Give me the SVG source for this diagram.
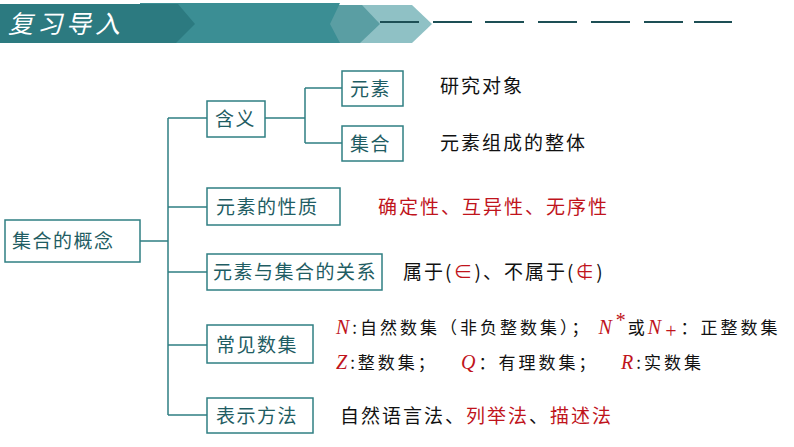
<svg xmlns="http://www.w3.org/2000/svg" width="794" height="447" viewBox="0 0 794 447">
<style>
.b{fill:#fff;stroke:#2f7f83;stroke-width:1.5}
.t{font-family:"Noto Sans CJK SC",sans-serif;font-size:19px;fill:#1f5d63;letter-spacing:1.5px}
.k{font-family:"Noto Sans CJK SC",sans-serif;font-size:19px;fill:#111;letter-spacing:2px}
.r{fill:#c0141c}
.m{font-family:"Liberation Serif",serif;font-style:italic;fill:#c0141c;font-size:20px}
.s{font-family:"Noto Sans CJK SC",sans-serif;font-size:17px;fill:#111;letter-spacing:3px}
</style>
<rect width="794" height="447" fill="#fff"/>
<g id="header">
<polygon points="360,5 412,5 432,24 412,43 340,43" fill="#8fc1c5"/>
<polygon points="320,5 362,5 380,24 360,43 322,43" fill="#5a9ea3"/>
<polygon points="140,3 340,3 330,24 340,43 140,43" fill="#3b8e94"/>
<polygon points="0,4 178,4 195,24 176,43 0,43" fill="#2c7a80"/>
<text x="8" y="33" font-family="Noto Sans CJK SC,sans-serif" font-size="25" fill="#fff" font-style="italic" letter-spacing="4">复习导入</text>
<g stroke="#1d4f55" stroke-width="2"><path d="M380 22H419M433 22H472M485 22H524M538 22H577M591 22H630M644 22H683M694 22H732"/></g>
</g>
<g id="connectors" fill="none" stroke="#2f7f83" stroke-width="1.5">
<path d="M140 241H168M168 118V415M168 118H207M168 207H207M168 272H207M168 345H207M168 415H207"/>
<path d="M265 118H305M305 88V143M305 88H342M305 143H342"/>
</g>
<g id="root"><rect class="b" x="5" y="220" width="135" height="42"/><text class="t" x="12" y="248">集合的概念</text></g>
<g id="hanyi"><rect class="b" x="207" y="101" width="58" height="36"/><text class="t" x="215" y="126">含义</text></g>
<g id="yuansu"><rect class="b" x="342" y="71" width="61" height="35"/><text class="t" x="350" y="96">元素</text></g>
<g id="jihe"><rect class="b" x="342" y="126" width="61" height="35"/><text class="t" x="350" y="151">集合</text></g>
<g id="xingzhi"><rect class="b" x="207" y="188" width="133" height="37"/><text class="t" x="216" y="214">元素的性质</text></g>
<g id="guanxi"><rect class="b" x="207" y="254" width="175" height="36"/><text class="t" x="213" y="279" letter-spacing="1">元素与集合的关系</text></g>
<g id="shuji"><rect class="b" x="207" y="325" width="106" height="38"/><text class="t" x="216" y="352">常见数集</text></g>
<g id="fangfa"><rect class="b" x="207" y="398" width="106" height="35"/><text class="t" x="216" y="423">表示方法</text></g>
<g id="texts">
<text class="k" x="440" y="93">研究对象</text>
<text class="k" x="440" y="150">元素组成的整体</text>
<text class="k r" x="378" y="214">确定性、互异性、无序性</text>
<text class="k" x="403" y="279">属于(<tspan class="r">∈</tspan>)、不属于(<tspan class="r">∉</tspan>)</text>
<text class="s" x="336" y="334"><tspan class="m">N</tspan>:自然数集（非负整数集）；  <tspan class="m">N</tspan><tspan class="m" font-size="12" dy="-7">*</tspan><tspan dy="7">或</tspan><tspan class="m">N</tspan><tspan class="m" font-size="15" dy="4">+</tspan><tspan dy="-4">：正整数集</tspan></text>
<text class="s" y="369"><tspan x="336" class="m">Z</tspan>:整数集；<tspan x="461" class="m">Q</tspan>：有理数集；<tspan x="621" class="m">R</tspan>:实数集</text>
<text class="k" x="340" y="423">自然语言法、<tspan class="r">列举法</tspan>、<tspan class="r">描述法</tspan></text>
</g>
</svg>
